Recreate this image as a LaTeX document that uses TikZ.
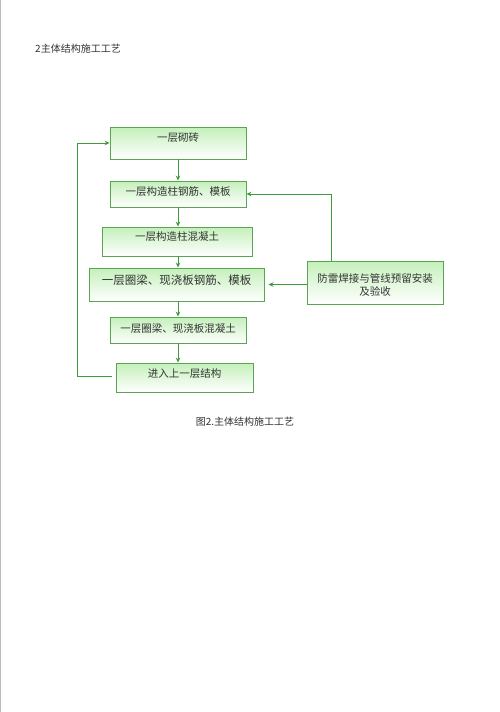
\documentclass[tikz,border=0pt]{standalone}
\usepackage{fontspec}
\newfontfamily\cjk{Noto Sans CJK SC}
\usetikzlibrary{arrows.meta,calc}
\definecolor{boxline}{HTML}{5AA552}
\definecolor{arrline}{HTML}{3E9A3A}
\definecolor{boxtop}{HTML}{C4F0BA}
\definecolor{txt}{HTML}{333333}
\definecolor{edge}{HTML}{BBBBBB}
\tikzset{
  flowbox/.style={draw=boxline, line width=0.9pt, top color=boxtop, bottom color=white,
    inner sep=0pt, font=\cjk\fontsize{10.5}{13}\selectfont, text=txt, align=center,
    text height=8pt},
  lift/.style={text depth=#1},
  arr/.style={draw=arrline, line width=0.9pt, -{Stealth[length=5pt,width=4.5pt]}},
  plain/.style={draw=arrline, line width=0.9pt},
  label/.style={font=\cjk\fontsize{10}{12}\selectfont, text=txt, inner sep=0pt}
}
\begin{document}
\begin{tikzpicture}[x=1pt,y=-1pt]
\useasboundingbox[fill=white] (0,0) rectangle (500,712);
\draw[edge, line width=1pt] (0.8,0) -- (0.8,712);
\node[label, anchor=west] (title) at (35,49) {2主体结构施工工艺};
\node[flowbox, lift=12pt, minimum width=136pt, minimum height=32pt] (b1) at (178,143) {一层砌砖};
\node[flowbox, lift=6pt, minimum width=136pt, minimum height=26pt] (b2) at (178,194) {一层构造柱钢筋、模板};
\node[flowbox, lift=10pt, minimum width=150pt, minimum height=29pt] (b3) at (177,241.5) {一层构造柱混凝土};
\node[flowbox, lift=10pt, minimum width=175pt, minimum height=33pt, font=\cjk\fontsize{11.5}{13}\selectfont, text height=9pt] (b4) at (176.5,284.5) {一层圈梁、现浇板钢筋、模板};
\node[flowbox, lift=4pt, minimum width=136pt, minimum height=26pt] (b5) at (178,330) {一层圈梁、现浇板混凝土};
\node[flowbox, lift=9pt, minimum width=137pt, minimum height=29pt] (b6) at (184.5,377.5) {进入上一层结构};
\node[flowbox, minimum width=136pt, minimum height=43pt, text width=130pt, text height=, lift=8pt] (r) at (375,282.5) {防雷焊接与管线预留安装\\及验收};
\node[label] (cap) at (245,422) {图2.主体结构施工工艺};
% vertical flow
\draw[arr] (b1.south) -- (b2.north);
\draw[arr] (b2.south) -- (b2.south |- b3.north);
\draw[arr] (b2.south |- b3.south) -- (b2.south |- b4.north);
\draw[arr] (b2.south |- b4.south) -- (b2.south |- b5.north);
\draw[arr] (b5.south) -- (b5.south |- b6.north);
% loop back
\coordinate (lstart) at ([xshift=-4pt,yshift=1.5pt]b6.west);
\coordinate (lcorner) at (77,143);
\draw[plain] (lstart) -| (lcorner);
\draw[arr] (lcorner) -- (b1.west);
% right side
\coordinate (rtop) at ([xshift=-44pt]r.north);
\draw[arr] (rtop) |- (b2.east);
\draw[arr] (r.west |- b4.east) -- ([xshift=4pt]b4.east);
\end{tikzpicture}
\end{document}
